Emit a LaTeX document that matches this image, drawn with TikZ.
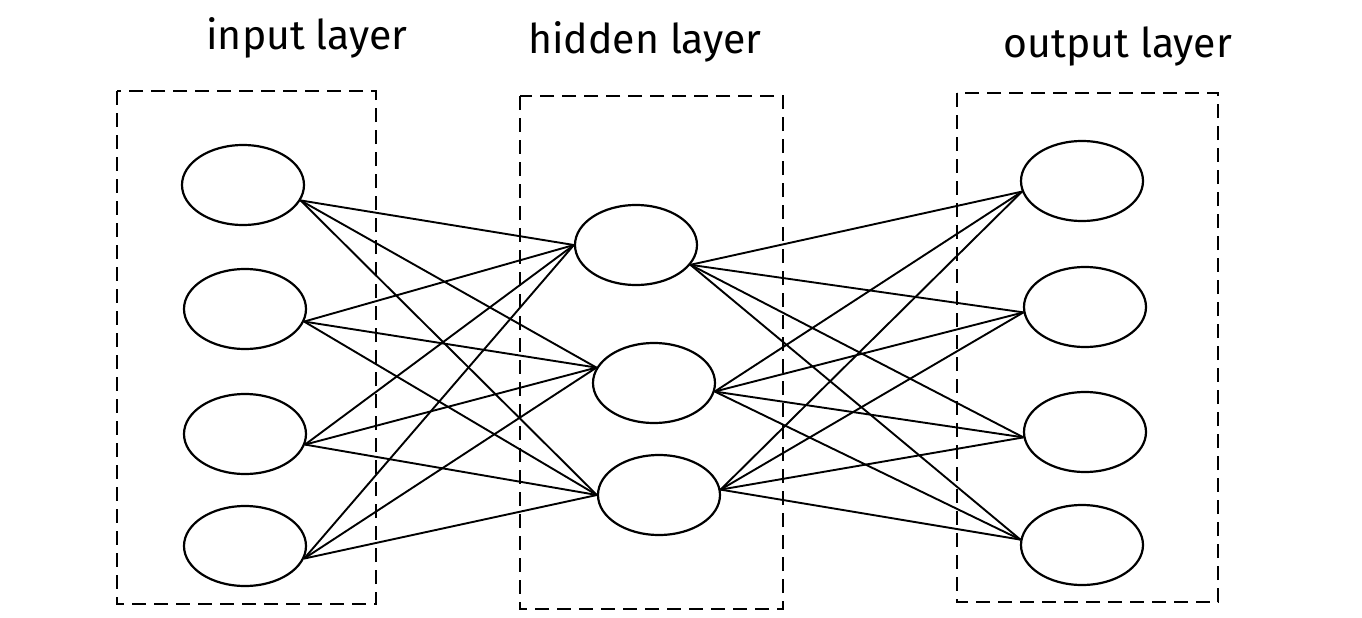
\documentclass[tikz,border=0pt]{standalone}
\usepackage{fontspec}
\setmainfont{Fira Sans}
\usetikzlibrary{shapes.geometric}
\tikzset{
  neuron/.style={draw, ellipse, line width=2.2pt, minimum width=122pt, minimum height=80pt, inner sep=0pt},
  layerbox/.style={draw, line width=2pt, dash pattern=on 14pt off 8pt},
  edge/.style={line width=1.9pt},
  lbl/.style={font=\fontsize{41}{46}\selectfont, inner sep=0pt}
}
\begin{document}
\begin{tikzpicture}[x=1pt,y=-1pt]
\useasboundingbox (0,0) rectangle (1362,618);
% layer boxes
\draw[layerbox] (117,91) rectangle (376,604);
\draw[layerbox] (520,96) rectangle (783,609);
\draw[layerbox] (957,93) rectangle (1218,602);
% labels
\node[lbl] (tin) at (307,38) {input layer};
\node[lbl] (thid) at (645,42) {hidden layer};
\node[lbl] (tout) at (1118,46) {output layer};
% neurons
\node[neuron] (i1) at (243,185) {};
\node[neuron] (i2) at (245,309) {};
\node[neuron] (i3) at (245,434) {};
\node[neuron] (i4) at (245,546) {};
\node[neuron] (h1) at (636,245) {};
\node[neuron] (h2) at (654,383) {};
\node[neuron] (h3) at (659,495) {};
\node[neuron] (o1) at (1082,181) {};
\node[neuron] (o2) at (1085,307) {};
\node[neuron] (o3) at (1085,432) {};
\node[neuron] (o4) at (1082,545) {};
% input -> hidden
\foreach \i/\a in {1/-15,2/-12,3/-10,4/-12}{
  \draw[edge] (i\i.\a) -- (h1.180);
  \draw[edge] (i\i.\a) -- (h2.165);
  \draw[edge] (i\i.\a) -- (h3.180);
}
% hidden -> output
\foreach \h/\a in {1/-20,2/-8,3/5}{
  \draw[edge] (h\h.\a) -- (o1.190);
  \draw[edge] (h\h.\a) -- (o2.185);
  \draw[edge] (h\h.\a) -- (o3.185);
  \draw[edge] (h\h.\a) -- (o4.175);
}
\end{tikzpicture}
\end{document}
